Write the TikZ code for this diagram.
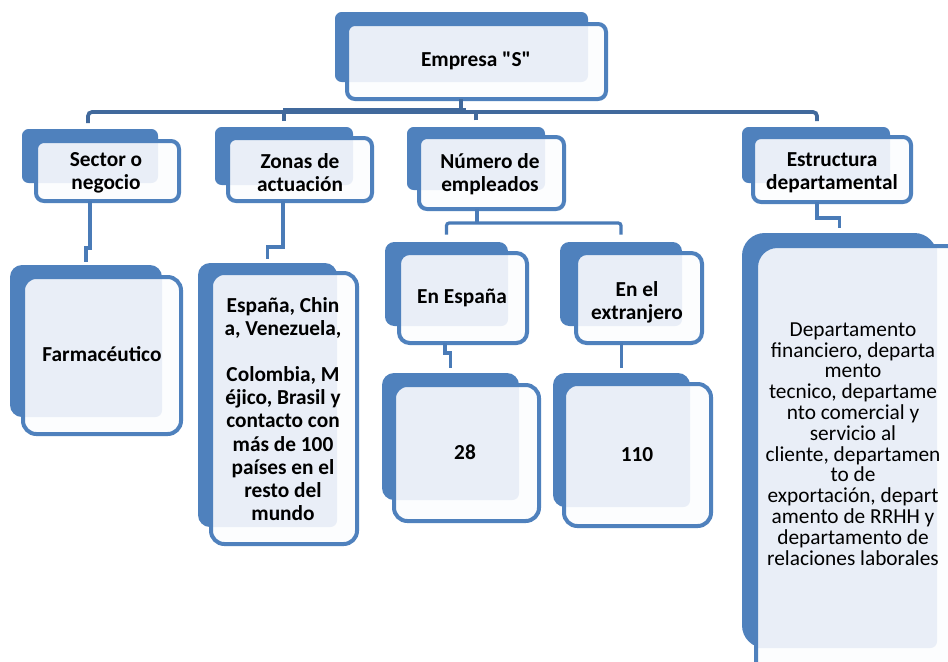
\documentclass[tikz,border=0pt]{standalone}
\usepackage{fontspec}
\setmainfont{Carlito}
\usetikzlibrary{fit}

\definecolor{cardblue}{HTML}{4F81BD}
\definecolor{cardtint}{HTML}{E9EEF7}
\definecolor{cardwhite}{HTML}{FCFDFE}
\definecolor{linkblue}{HTML}{4A7BB7}
\definecolor{barblue}{HTML}{41699C}

\tikzset{
  backcard/.style={fill=cardblue, rounded corners=#1, inner sep=0pt, outer sep=0pt},
  backcard/.default=5pt,
  frontcard/.style={draw=cardblue, line width=3pt, fill=cardwhite, rounded corners=#1, inner sep=0pt, outer sep=0pt},
  frontcard/.default=6pt,
  tint/.style={path picture={\fill[cardtint, rounded corners=5pt] (#1.north west) rectangle (#1.south east);}},
  link/.style={draw=linkblue, line width=2.4pt},
  mainbar/.style={draw=barblue, line width=2.8pt},
  cardtext/.style={align=center, inner sep=0pt, text=black, font=\bfseries\fontsize{16pt}{17.3pt}\selectfont},
  listtext/.style={align=center, inner sep=0pt, text=black, font=\fontsize{16pt}{15.6pt}\selectfont},
}

\begin{document}
\begin{tikzpicture}[x=0.75pt, y=-0.75pt]
\useasboundingbox (0,0) rectangle (948,661);
\clip (0,0) rectangle (948,661);
\fill[white] (0,0) rectangle (948,661);

% top level
\node[backcard, fit={(335,12) (588,82)}] (eB) {};
\node[frontcard, tint=eB, fit={(347,24) (606,99)}] (e) {};
\node[cardtext] (eT) at (476,61) {Empresa \textquotedbl S\textquotedbl};

% second level
\node[backcard, fit={(22,129) (158,183)}] (sB) {};
\node[frontcard, tint=sB, fit={(36,141) (179,201)}] (s) {};
\node[cardtext] (sT) at (106,173) {Sector o\\negocio};

\node[backcard, fit={(215,127) (353,185)}] (zB) {};
\node[frontcard, tint=zB, fit={(228,138) (372,201)}] (z) {};
\node[cardtext] (zT) at (300,173) {Zonas de\\actuación};

\node[backcard, fit={(407,127) (545,190)}] (nB) {};
\node[frontcard, tint=nB, fit={(419,137) (564,209)}] (n) {};
\node[cardtext] (nT) at (490,174) {Número de\\empleados};

\node[backcard, fit={(742,127) (890,183)}] (dB) {};
\node[frontcard, tint=dB, fit={(753,137) (911,202)}] (d) {};
\node[cardtext] (dT) at (832,173) {Estructura\\departamental};

% third level
\node[backcard=9pt, fit={(10,265) (162,417)}] (fB) {};
\node[frontcard=10pt, tint=fB, fit={(23,277) (181,434)}] (f) {};
\node[cardtext] (fT) at (102,354) {Farmacéutico};

\node[backcard=9pt, fit={(198,263) (337,527)}] (zdB) {};
\node[frontcard=10pt, tint=zdB, fit={(211,273) (357,544)}] (zd) {};
\node[cardtext] (zdT) at (283,409) {España, Chin\\a, Venezuela,\\ ~ \\Colombia, M\\éjico, Brasil y\\contacto con\\más de 100\\países en el\\resto del\\mundo};

\node[backcard=7pt, fit={(385,242) (508,326)}] (esB) {};
\node[frontcard=8pt, tint=esB, fit={(399,253) (527,343)}] (es) {};
\node[cardtext] (esT) at (462,298) {En España};

\node[backcard=7pt, fit={(560,242) (682,326)}] (exB) {};
\node[frontcard=8pt, tint=exB, fit={(576,253) (702,343)}] (ex) {};
\node[cardtext] (exT) at (637,302) {En el\\extranjero};

\node[backcard=17pt, fit={(742,233) (937,648)}] (dpB) {};
\node[frontcard=16pt, tint=dpB, fit={(756,246) (975,690)}] (dp) {};
\node[listtext] (dpT) at (853,444) {Departamento\\financiero, departa\\mento\\tecnico, departame\\nto comercial y\\servicio al\\cliente, departamen\\to de\\exportación, depart\\amento de RRHH y\\departamento de\\relaciones laborales};

% fourth level
\node[backcard=9pt, fit={(382,373) (519,500)}] (tB) {};
\node[frontcard=10pt, tint=tB, fit={(394,385) (539,521)}] (t) {};
\node[cardtext] (tT) at (465,452) {28};

\node[backcard=9pt, fit={(553,373) (690,507)}] (oB) {};
\node[frontcard=10pt, tint=oB, fit={(564,384) (711,526)}] (o) {};
\node[cardtext] (oT) at (637,455) {110};

% main branch under the top card
\coordinate (bl) at (88,112);
\coordinate (br) at (817,112);
\coordinate (ev) at (461,112);
\coordinate (bm1) at (283,109.5);
\coordinate (bm2) at (466,109.5);
\draw[mainbar, rounded corners=3pt] ([yshift=4.5pt]bl |- sB.north) -- (bl) -- (br) -- ([yshift=4.5pt]br |- dB.north);
\draw[mainbar] (bm1) -- (bm2);
\draw[mainbar] (ev |- e.south) -- (ev);
\draw[mainbar] ([yshift=4.5pt]zB.north) -- (zB.north |- bl);
\draw[mainbar] ([yshift=5pt]nB.north) -- (nB.north |- bl);

% second level to third level
\coordinate (s1) at (90,248);
\draw[link] (s1 |- s.south) -- (s1) -| ([yshift=2pt]fB.north);
\coordinate (z1) at (283,247);
\draw[link] (z1 |- z.south) -- (z1) -| ([yshift=3pt]zdB.north);
\coordinate (n1) at (477,223);
\draw[link] (n1 |- n.south) -- (n1);
\draw[link, rounded corners=2pt] ([yshift=5.5pt]esB.north) |- (n1) -| ([yshift=5.5pt]exB.north);
\coordinate (d1) at (817,218);
\draw[link] (d1 |- d.south) -- (d1) -| ([yshift=3.5pt]dpB.north);

% third level to fourth level
\coordinate (es1) at (445,353);
\draw[link] (es1 |- es.south) -- (es1) -| ([yshift=4pt]tB.north);
\draw[link] (oB.north |- ex.south) -- ([yshift=4pt]oB.north);
\end{tikzpicture}
\end{document}
